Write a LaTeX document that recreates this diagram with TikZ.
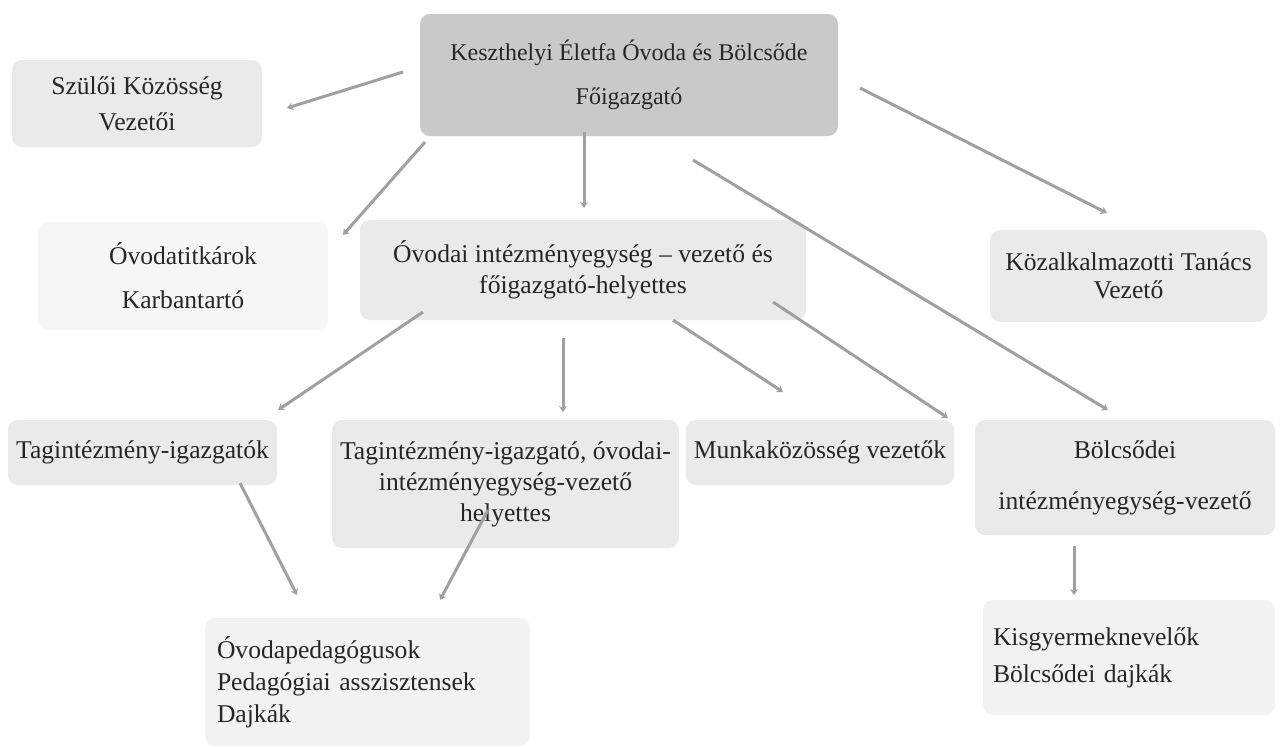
\documentclass[tikz,border=0pt]{standalone}
\usepackage{fontspec}
\setmainfont{Liberation Serif}
\usepackage{tikz}
\usetikzlibrary{arrows.meta}
\definecolor{boxdark}{RGB}{201, 201, 201}
\definecolor{boxmid}{RGB}{234, 234, 234}
\definecolor{boxlight}{RGB}{246, 246, 246}
\definecolor{linegray}{RGB}{160, 160, 160}
\tikzset{
  box/.style={rounded corners=5pt, fill=boxmid, inner sep=4pt, align=center,
    font=\fontsize{12.8}{15}\selectfont, text=black!85},
  link/.style={line width=1.5pt, color=linegray, -{Stealth[length=3pt, width=4pt]}}
}
\begin{document}
\begin{tikzpicture}[x=0.5pt, y=-0.5pt]
\useasboundingbox (0, 0) rectangle (1282, 746);
\node (top) [box, fill=boxdark, minimum width=209pt, minimum height=61pt,
  font=\fontsize{12}{15}\selectfont] at (629, 75)
  {Keszthelyi Életfa Óvoda és Bölcsőde\\[7pt] Főigazgató};
\node (szuloi) [box, minimum width=125pt, minimum height=43.5pt] at (137, 103.5)
  {Szülői Közösség\\[3pt] Vezetői};
\node (titkar) [box, fill=boxlight, minimum width=145pt, minimum height=54pt] at (183, 276)
  {Óvodatitkárok\\[7pt] Karbantartó};
\node (ovodai) [box, minimum width=223pt, minimum height=50pt] at (583, 270)
  {Óvodai intézményegység – vezető és\\[0.5pt] főigazgató-helyettes};
\node (kozalk) [box, minimum width=138.5pt, minimum height=46pt] at (1128.5, 276)
  {Közalkalmazotti Tanács\\[-1pt] Vezető};
\node (tagig) [box, minimum width=134.5pt, minimum height=32.5pt] at (142.5, 452.5)
  {Tagintézmény-igazgatók};
\node (tagov) [box, minimum width=170.5pt, minimum height=64pt] at (505.5, 484)
  {Tagintézmény-igazgató, óvodai-\\[0.5pt] intézményegység-vezető\\[0.5pt] helyettes};
\node (munka) [box, minimum width=132pt, minimum height=32.5pt] at (820, 452.5)
  {Munkaközösség vezetők};
\node (bolcs) [box, minimum width=150pt, minimum height=57.5pt] at (1125, 477.5)
  {Bölcsődei\\[10.5pt] intézményegység-vezető};
\node (ovped) [box, fill=boxlight!70!boxmid, minimum width=162.5pt, minimum height=64pt,
  text width=150.5pt, align=left, inner xsep=6pt] at (367.5, 682)
  {Óvodapedagógusok\\[1pt] Pedagógiai asszisztensek\\[1pt] Dajkák};
\node (kisgy) [box, fill=boxlight!70!boxmid, minimum width=146pt, minimum height=57.5pt,
  text width=136pt, align=left, inner xsep=5pt] at (1129, 657.5)
  {Kisgyermeknevelők\\[3.5pt] Bölcsődei dajkák};
% connector ends
\coordinate (a1) at (403, 72);   \coordinate (b1) at (287, 108);
\coordinate (a2) at (425, 142);  \coordinate (b2) at (343, 235);
\coordinate (a3) at (584, 132);  \coordinate (b3) at (584, 208);
\coordinate (a4) at (860, 88);   \coordinate (b4) at (1107, 213);
\coordinate (a5) at (693, 160);  \coordinate (b5) at (1108, 410);
\coordinate (a6) at (423, 312);  \coordinate (b6) at (278, 410);
\coordinate (a7) at (563, 338);  \coordinate (b7) at (563, 412);
\coordinate (a8) at (673, 320);  \coordinate (b8) at (783, 392);
\coordinate (a9) at (773, 302);  \coordinate (b9) at (948, 418);
\coordinate (a10) at (240, 483); \coordinate (b10) at (297, 595);
\coordinate (a11) at (488, 510); \coordinate (b11) at (440, 600);
\coordinate (a12) at (1074, 546); \coordinate (b12) at (1074, 595);
\foreach \i in {1,...,12}
  \draw [link] (a\i) -- (b\i);
\end{tikzpicture}
\end{document}
